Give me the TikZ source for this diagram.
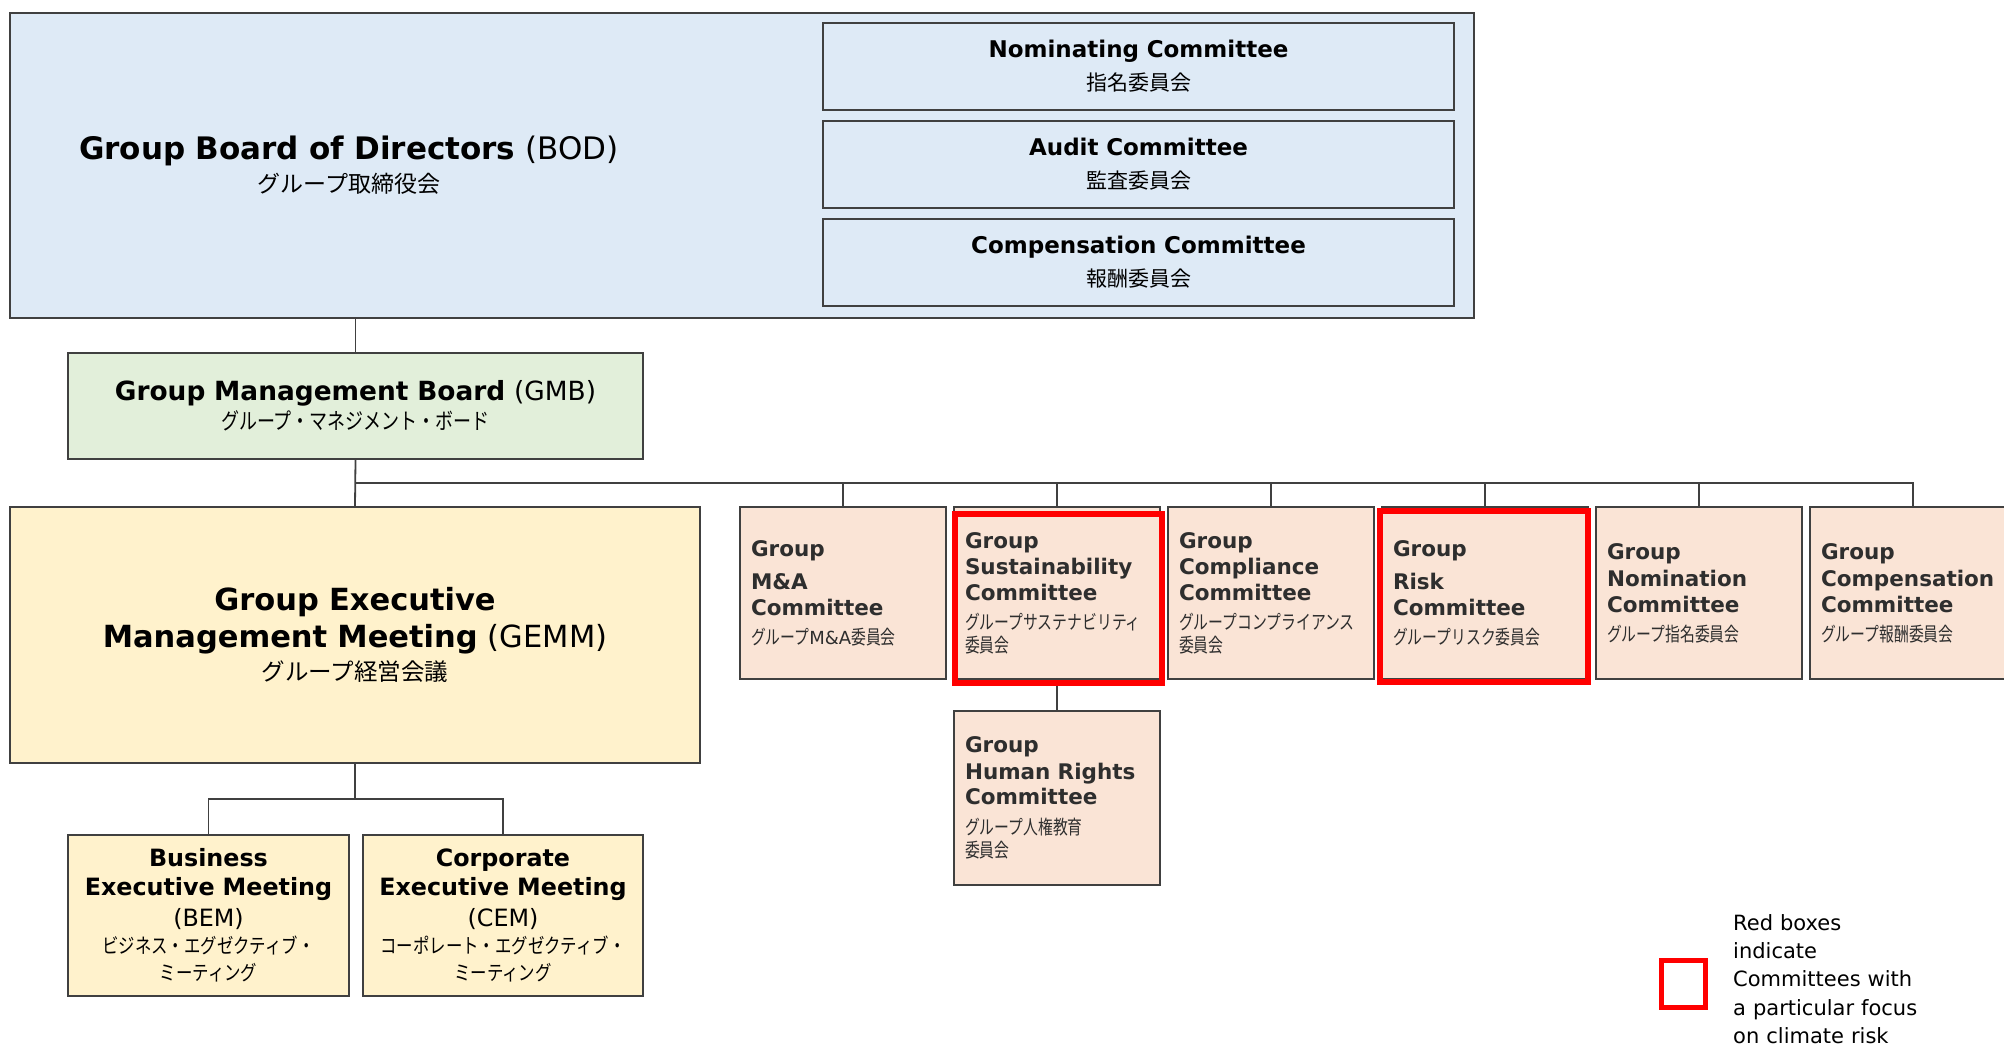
\documentclass[tikz,border=0pt]{standalone}
\usepackage{fontspec}
\setmainfont{DejaVu Sans}
\newfontfamily\jpfont{Noto Sans CJK JP}
\newfontfamily\jpnarrow[FakeStretch=0.8]{Noto Sans CJK JP}
\newfontfamily\jpslim[FakeStretch=0.76]{Noto Sans CJK JP}
\usetikzlibrary{positioning,calc}
\definecolor{boardblue}{RGB}{222,234,246}
\definecolor{gmbgreen}{RGB}{226,239,218}
\definecolor{execyellow}{RGB}{255,242,204}
\definecolor{cmtepeach}{RGB}{250,228,214}
\definecolor{linegray}{RGB}{64,64,64}
\newcommand\cmtejp{\jpslim\mdseries\fontsize{19.5}{23}\selectfont}
\tikzset{
  panel/.style   ={rectangle, draw=linegray, line width=1.8pt, inner sep=0pt,
                   align=center},
  board/.style   ={panel, fill=boardblue},
  bodcmte/.style ={panel, fill=boardblue, text width=631pt, minimum height=87pt,
                   font=\fontsize{23}{33}\selectfont},
  mgmt/.style    ={panel, fill=gmbgreen},
  execbox/.style ={panel, fill=execyellow},
  cmte/.style    ={panel, fill=cmtepeach, minimum width=206pt, minimum height=172pt,
                   text width=184pt, align=left, text=black!82,
                   font=\fontsize{21.5}{23}\selectfont\bfseries},
  redframe/.style={draw=red, line width=6pt},
  wire/.style    ={draw=linegray, line width=1.8pt},
  keybox/.style  ={rectangle, draw=red, line width=5pt, minimum width=44pt,
                   minimum height=47pt, inner sep=0pt},
  keytext/.style ={align=left, text width=270pt, inner sep=0pt,
                   font=\fontsize{21}{28.3}\selectfont}
}

\begin{document}
\begin{tikzpicture}[x=1pt,y=-1pt]
\useasboundingbox (0,0) rectangle (2004,1046);
\clip (0,0) rectangle (2004,1046);

%% ---- Board of directors ---------------------------------------------
\node[board, minimum width=1464pt, minimum height=305pt] (bod) at (742,165.5) {};
\node[align=center, text width=620pt, inner sep=0pt,
      font=\fontsize{31}{33}\selectfont] (bodtitle) at (349,165.5)
{\textbf{Group Board of Directors} (BOD)\\{\jpfont\fontsize{23}{33}\selectfont グループ取締役会}};

\node[bodcmte] (nomc) at (1138.5,66.5)
{\textbf{Nominating Committee}\\{\jpfont\fontsize{21}{33}\selectfont 指名委員会}};
\node[bodcmte] (audc) at (1138.5,164.5)
{\textbf{Audit Committee}\\{\jpfont\fontsize{21}{33}\selectfont 監査委員会}};
\node[bodcmte] (payc) at (1138.5,262.5)
{\textbf{Compensation Committee}\\{\jpfont\fontsize{21}{33}\selectfont 報酬委員会}};

%% ---- Management board and executive meetings -------------------------
\node[mgmt, text width=575pt, minimum height=106pt,
      font=\fontsize{26.4}{29}\selectfont] (gmb) at (355.5,406)
{\textbf{Group Management Board} (GMB)\\{\jpnarrow\fontsize{22.5}{29}\selectfont グループ・マネジメント・ボード}};

\node[execbox, text width=690pt, minimum height=256pt,
      font=\fontsize{30.5}{37}\selectfont] (gemm) at (355,635)
{\textbf{Group Executive}\\ \textbf{Management Meeting} (GEMM)\\[-4pt]{\jpfont\fontsize{23.5}{37}\selectfont グループ経営会議}};

\node[execbox, text width=281pt, minimum height=161pt,
      font=\fontsize{23.8}{29}\selectfont] (bem) at (208.5,915.5)
{\textbf{Business}\\ \textbf{Executive Meeting}\\[2pt] (BEM)\\[-2pt]{\jpnarrow\fontsize{20.5}{29}\selectfont ビジネス・エグゼクティブ・\\[-2pt]ミーティング}};
\node[execbox, text width=280pt, minimum height=161pt,
      font=\fontsize{23.8}{29}\selectfont] (cem) at (503,915.5)
{\textbf{Corporate}\\ \textbf{Executive Meeting}\\[2pt] (CEM)\\[-2pt]{\jpnarrow\fontsize{20.5}{29}\selectfont コーポレート・エグゼクティブ・\\[-2pt]ミーティング}};

%% ---- Group committees -------------------------------------------------
\node[cmte] (cma) at (843,593)
{Group\\[10pt] M\&A\\[3pt] Committee\\[6pt]{\cmtejp グループ{\normalfont\fontsize{18}{23}\selectfont M\&A}委員会}};
\node[cmte] (csus) at (1057,593)
{Group\\[3pt] Sustainability\\[3pt] Committee\\[6pt]{\cmtejp グループサステナビリティ\\委員会}};
\node[cmte] (ccpl) at (1271,593)
{Group\\[3pt] Compliance\\[3pt] Committee\\[6pt]{\cmtejp グループコンプライアンス\\委員会}};
\node[cmte] (crisk) at (1485,593)
{Group\\[10pt] Risk\\[3pt] Committee\\[6pt]{\cmtejp グループリスク委員会}};
\node[cmte] (cnom) at (1699,593)
{Group\\[4pt] Nomination\\[3pt] Committee\\[6pt]{\cmtejp グループ指名委員会}};
\node[cmte] (cpay) at (1913,593)
{Group\\[4pt] Compensation\\[3pt] Committee\\[6pt]{\cmtejp グループ報酬委員会}};
\node[cmte, minimum height=174pt] (chr) at (1057,798)
{Group\\[4pt] Human Rights\\[2pt] Committee\\[7pt]{\cmtejp グループ人権教育\\委員会}};

%% ---- Wiring -------------------------------------------------------------
\coordinate (bus) at ($(gemm.north)!0.5!(gemm.north |- gmb.south)$);
\coordinate (execbus) at ($(gemm.south)!0.5!(gemm.south |- bem.north)$);
\draw[wire] (gmb.north |- bod.south) -- (gmb.north);
\draw[wire] (gmb.south) -- (gemm.north);
\draw[wire] (bus) -| (cpay.north);
\foreach \c in {cma,csus,ccpl,crisk,cnom}
  \draw[wire] (bus -| \c.north) -- (\c.north);
\draw[wire] (csus.south) -- (chr.north);
\draw[wire] (gemm.south) -- (execbus);
\draw[wire] (bem.north) -- (bem.north |- execbus) -- (cem.north |- execbus)
      -- (cem.north);

%% ---- Climate focus frames and key -------------------------------------
\draw[redframe] ([xshift=2pt,yshift=-8pt]csus.north west) rectangle
      ([xshift=1pt,yshift=-3pt]csus.south east);
\draw[redframe] ([xshift=-1pt,yshift=-5pt]crisk.north west) rectangle
      ([xshift=-1pt,yshift=-2pt]crisk.south east);

\node[keybox] (key) at (1683,984) {};
\node[keytext, anchor=west] (keynote) at (1733,979)
{Red boxes\\indicate\\Committees with\\a particular focus\\on climate risk};
\end{tikzpicture}
\end{document}
